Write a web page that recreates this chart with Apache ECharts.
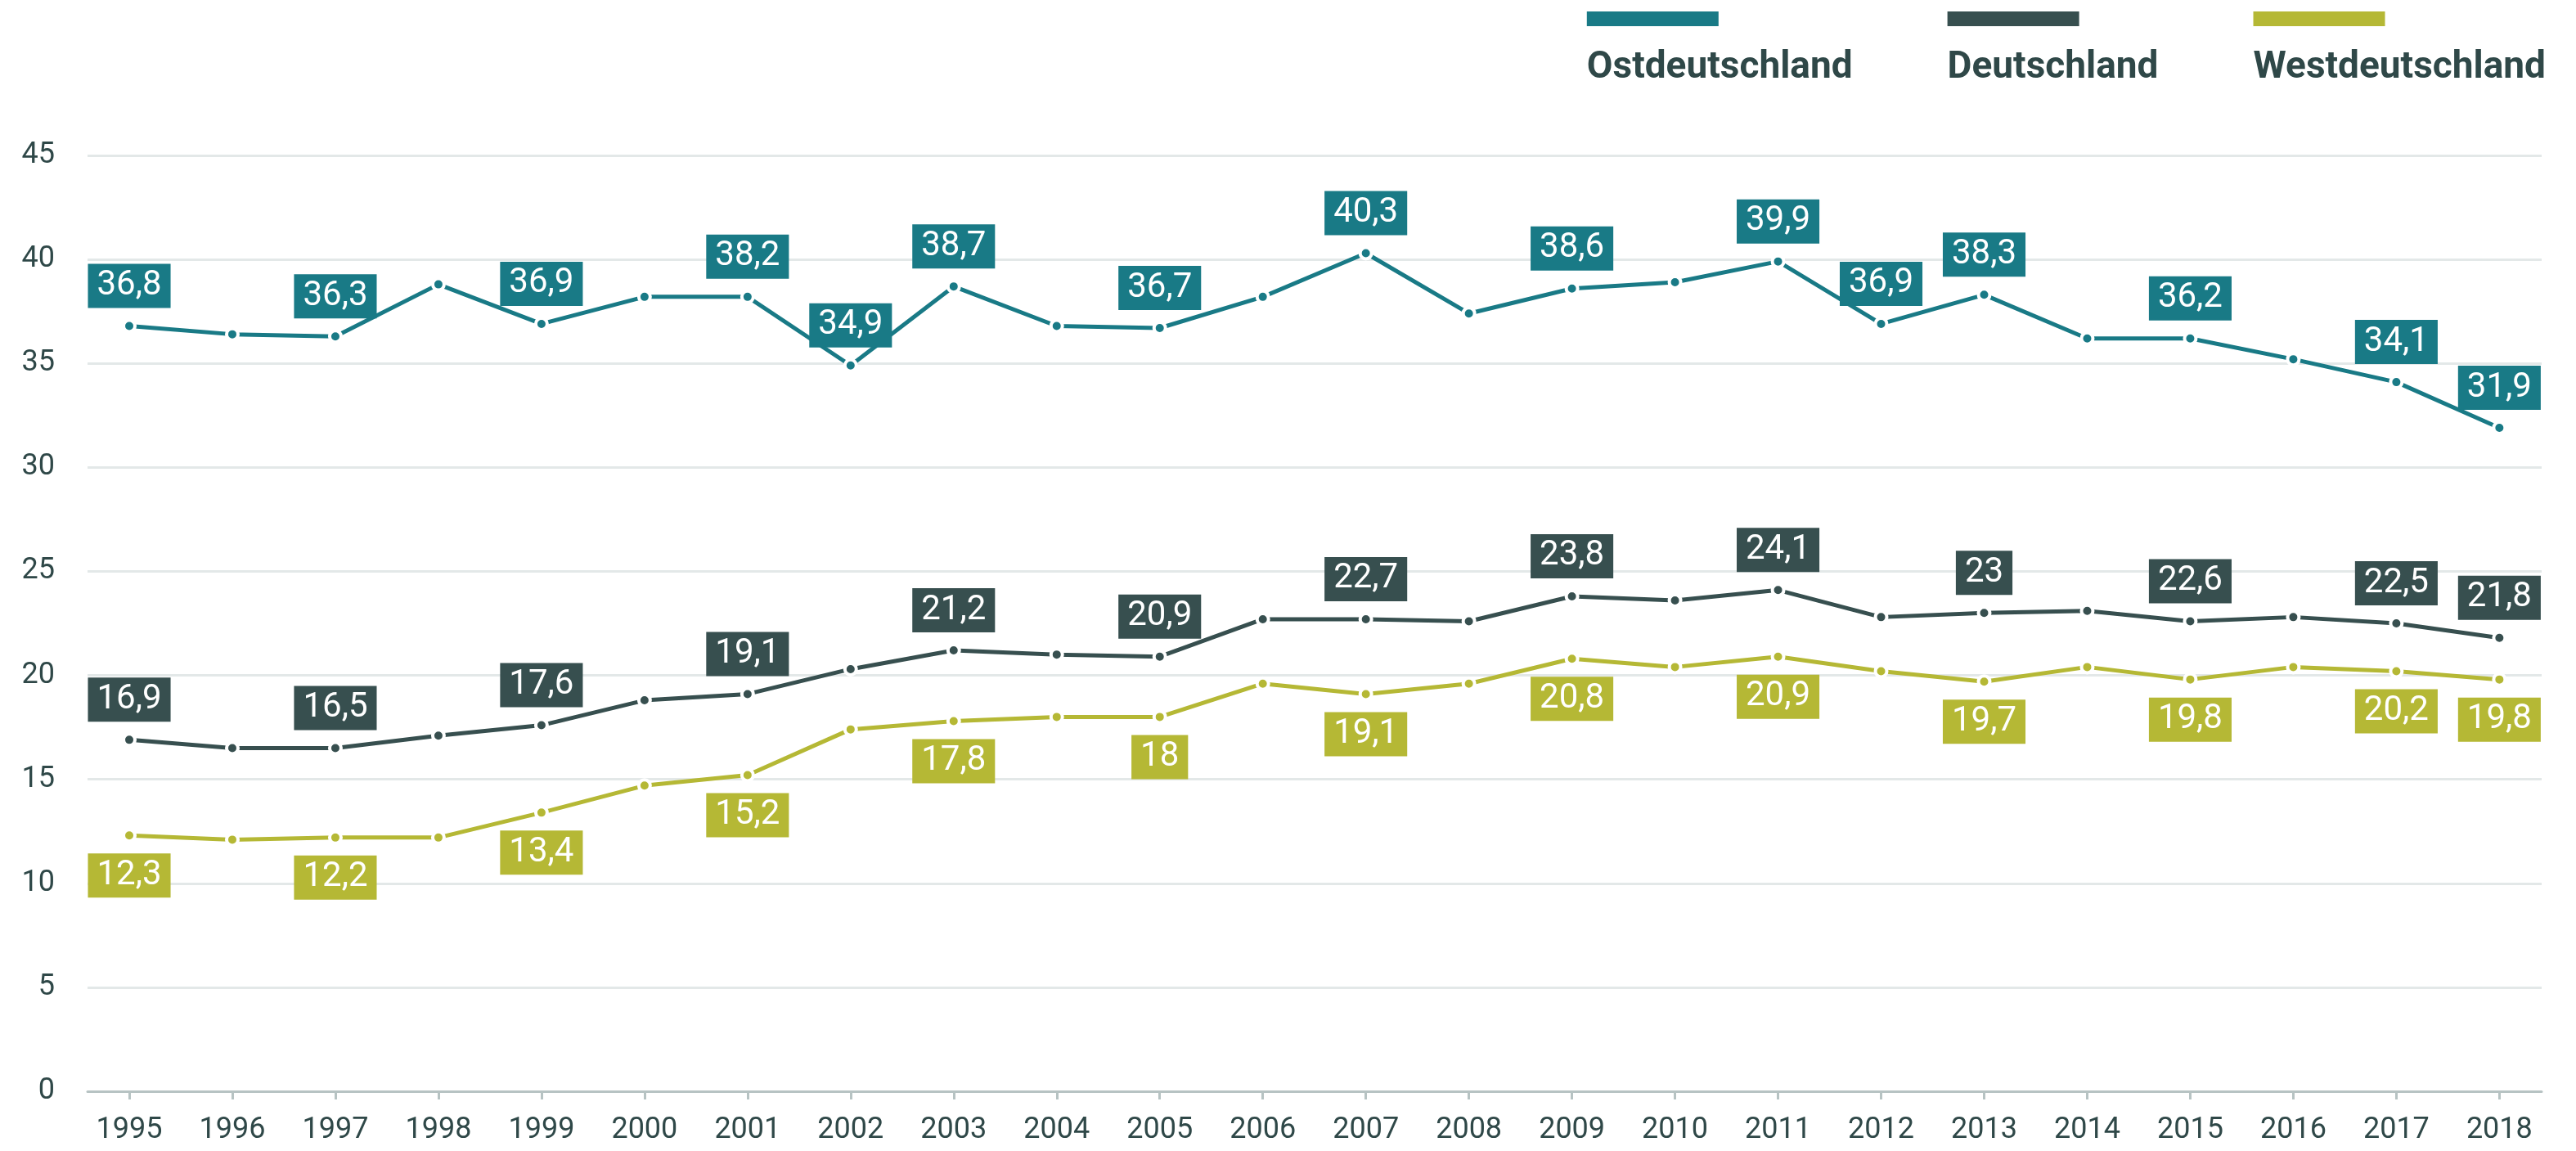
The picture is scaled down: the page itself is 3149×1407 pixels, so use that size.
<!DOCTYPE html>
<html>
<head>
<meta charset="utf-8">
<title>Ost / West / Deutschland</title>
<script src="https://cdn.jsdelivr.net/npm/echarts@6/dist/echarts.min.js"></script>
<style>
  html, body { margin: 0; padding: 0; background: #fff; }
  #chart { width: 3149px; height: 1407px; }
</style>
</head>
<body>
<div id="chart"></div>
<script>
// Daten
let years = [1995, 1996, 1997, 1998, 1999, 2000, 2001, 2002, 2003, 2004, 2005, 2006,
  2007, 2008, 2009, 2010, 2011, 2012, 2013, 2014, 2015, 2016, 2017, 2018];
let ostValues = [36.8, 36.4, 36.3, 38.8, 36.9, 38.2, 38.2, 34.9, 38.7, 36.8, 36.7, 38.2,
  40.3, 37.4, 38.6, 38.9, 39.9, 36.9, 38.3, 36.2, 36.2, 35.2, 34.1, 31.9];
let deValues = [16.9, 16.5, 16.5, 17.1, 17.6, 18.8, 19.1, 20.3, 21.2, 21.0, 20.9, 22.7,
  22.7, 22.6, 23.8, 23.6, 24.1, 22.8, 23.0, 23.1, 22.6, 22.8, 22.5, 21.8];
let westValues = [12.3, 12.1, 12.2, 12.2, 13.4, 14.7, 15.2, 17.4, 17.8, 18.0, 18.0, 19.6,
  19.1, 19.6, 20.8, 20.4, 20.9, 20.2, 19.7, 20.4, 19.8, 20.4, 20.2, 19.8];
// Jahre mit Beschriftung
let ostLabelYears = [1995, 1997, 1999, 2001, 2002, 2003, 2005, 2007, 2009, 2011, 2012, 2013, 2015, 2017, 2018];
let deLabelYears = [1995, 1997, 1999, 2001, 2003, 2005, 2007, 2009, 2011, 2013, 2015, 2017, 2018];
let westLabelYears = [1995, 1997, 1999, 2001, 2003, 2005, 2007, 2009, 2011, 2013, 2015, 2017, 2018];
let yTicks = [0, 5, 10, 15, 20, 25, 30, 35, 40, 45];

let seriesNames = ['Ostdeutschland', 'Deutschland', 'Westdeutschland'];
let colors = ['#197a86', '#374f4f', '#b5b835'];
let textColor = '#2f4848';

let chart = echarts.init(document.getElementById('chart'));

const buildData = (values, labelYears) => {
  return values.map((v, i) => {
    let item = { value: [years[i], v] };
    if (labelYears.indexOf(years[i]) >= 0) {
      item.label = { show: true };
    }
    return item;
  });
};

const makeSeries = (idx, values, labelYears, pos) => {
  return {
    name: seriesNames[idx],
    type: 'line',
    data: buildData(values, labelYears),
    symbol: 'circle',
    symbolSize: 14,
    lineStyle: { width: 5, color: colors[idx] },
    itemStyle: { color: colors[idx], borderColor: '#fff', borderWidth: 4 },
    label: {
      show: false,
      position: pos,
      distance: 13,
      backgroundColor: colors[idx],
      color: '#fff',
      fontFamily: 'Roboto',
      fontSize: 42,
      lineHeight: 42,
      padding: [6, 11, 6, 11],
      formatter: (p) => String(p.value[1]).replace('.', ',')
    },
    emphasis: { disabled: true },
    animation: false,
    z: 3 - idx
  };
};

// Legende: Farbbalken über dem Namen
let rich = {
  t: { fontFamily: 'Roboto', fontSize: 46, fontWeight: 'bold', color: textColor, lineHeight: 56, padding: [46, 0, 0, 0] }
};
colors.forEach((c, i) => {
  rich['b' + i] = { width: 161, height: 18, backgroundColor: c };
});

let option = {
  backgroundColor: '#fff',
  textStyle: { fontFamily: 'Roboto' },
  legend: {
    top: 14,
    right: 37,
    padding: 0,
    itemGap: 111,
    icon: 'none',
    itemWidth: 0,
    itemHeight: 10,
    selectedMode: false,
    data: seriesNames,
    formatter: (name) => {
      let i = seriesNames.indexOf(name);
      return '{b' + i + '|}\n{t|' + name + '}';
    },
    textStyle: { rich: rich }
  },
  grid: { left: 107, right: 42, top: 190, bottom: 73 },
  xAxis: {
    type: 'value',
    min: 1994.595,
    max: 2018.41,
    axisLine: { lineStyle: { color: '#b7c3c3', width: 3 } },
    axisTick: { show: true, customValues: years, length: 10, lineStyle: { color: '#b7c3c3', width: 3 } },
    axisLabel: {
      customValues: years,
      margin: 30,
      fontSize: 36,
      color: textColor,
      fontFamily: 'Roboto',
      formatter: (v) => String(v)
    },
    splitLine: { show: false }
  },
  yAxis: {
    type: 'value',
    min: yTicks[0],
    max: yTicks[yTicks.length - 1],
    interval: 5,
    axisLine: { show: false },
    axisTick: { show: false },
    axisLabel: { margin: 40, fontSize: 36, color: textColor, fontFamily: 'Roboto' },
    splitLine: { lineStyle: { color: '#e3e8e8', width: 3 } }
  },
  series: [
    makeSeries(0, ostValues, ostLabelYears, 'top'),
    makeSeries(1, deValues, deLabelYears, 'top'),
    makeSeries(2, westValues, westLabelYears, 'bottom')
  ]
};

chart.setOption(option);
</script>
</body>
</html>
